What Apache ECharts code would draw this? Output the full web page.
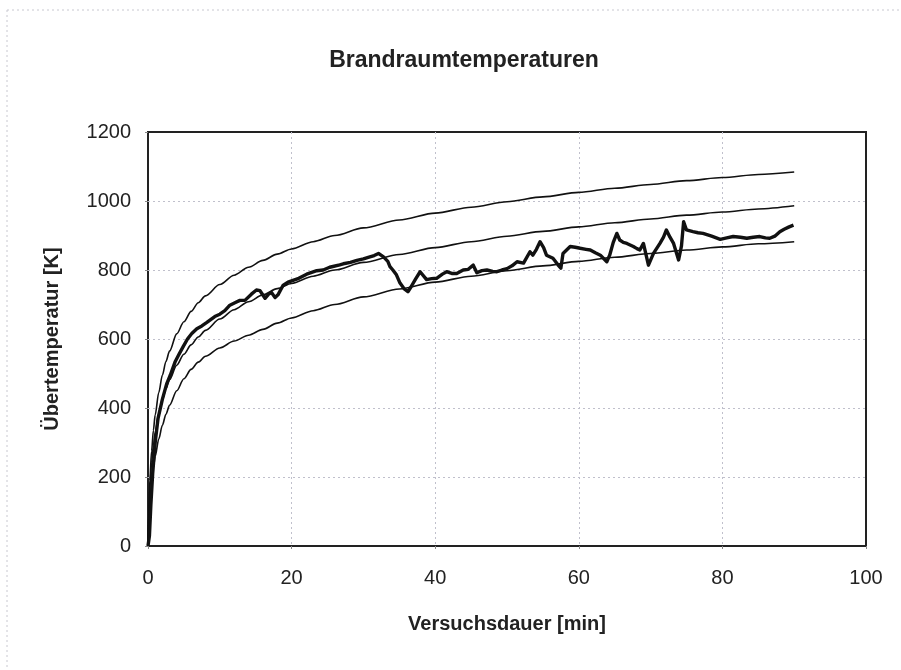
<!DOCTYPE html>
<html>
<head>
<meta charset="utf-8">
<script src="https://cdn.jsdelivr.net/npm/echarts@6/dist/echarts.min.js"></script>
<style>
  html, body { margin: 0; padding: 0; background: #fff; }
  #chart { width: 901px; height: 670px; }
</style>
</head>
<body>
<div id="chart"></div>
<script>
// Einheitstemperaturkurve mit oberer / unterer Grenze
const stdTime   = [0, 0.1, 0.25, 0.5, 0.75, 1, 1.5, 2, 2.5, 3, 4, 5, 6, 7, 8, 10, 12, 14, 16, 18, 20, 23, 26, 30, 35, 40, 45, 50, 55, 60, 65, 70, 75, 80, 85, 90]
const stdUpper  = [0, 100, 190, 275, 335, 380, 445, 495, 535, 565, 615, 650, 680, 705, 725, 758, 785, 808, 828, 846, 861, 882, 900, 922, 945, 965, 982, 998, 1012, 1025, 1037, 1048, 1059, 1068, 1077, 1084]
const stdMiddle = [0, 88, 165, 241, 292, 329, 384, 424, 456, 482, 524, 556, 583, 606, 625, 658, 685, 708, 728, 746, 761, 782, 800, 822, 845, 865, 882, 898, 912, 925, 937, 948, 959, 968, 977, 986]
const stdLower  = [0, 70, 125, 185, 228, 260, 310, 350, 382, 408, 450, 485, 512, 533, 550, 574, 594, 611, 628, 646, 661, 682, 700, 722, 745, 765, 782, 798, 812, 825, 837, 848, 858, 867, 876, 882]

// gemessene Brandraumtemperatur
const measTime = [0, 0.2, 0.4, 0.65, 1.0, 1.4, 2.0, 2.6, 3.1, 3.8, 4.3, 4.9, 5.5, 6.1, 6.8, 7.5, 8.2, 9.3, 10.0, 10.7,
  11.4, 12.1, 12.8, 13.5, 14.4, 15.1, 15.6, 16.3, 16.8, 17.2, 17.7, 18.1, 18.8, 19.5, 20.2, 21.0, 22.1, 23.5, 24.4, 25.3,
  26.7, 27.2, 28.2, 29.1, 30.0, 30.9, 31.5, 32.1, 32.8, 33.4, 33.7, 34.1, 34.6, 35.1, 35.7, 36.2, 36.6, 37.3, 37.9, 38.8,
  39.5, 40.2, 41.0, 41.6, 42.3, 43.0, 43.9, 44.6, 45.3, 45.8, 46.5, 47.2, 48.0, 48.6, 49.3, 50.0, 50.7, 51.4, 52.3, 53.2,
  53.6, 54.1, 54.6, 55.1, 55.5, 56.4, 57.1, 57.5, 57.8, 58.8, 59.5, 60.2, 61.0, 61.6, 62.3, 63.0, 63.9, 64.3, 64.8, 65.3,
  65.7, 66.2, 66.7, 67.6, 68.1, 68.5, 69.0, 69.7, 70.4, 71.3, 71.8, 72.2, 72.7, 73.2, 73.9, 74.3, 74.6, 75.0, 75.9, 76.6,
  77.3, 78.5, 79.7, 80.6, 81.5, 82.5, 83.4, 84.3, 85.2, 86.0, 86.6, 87.3, 88.0, 88.6, 89.3, 89.9]
const measTemp = [0, 30, 120, 210, 300, 370, 425, 470, 495, 535, 555, 578, 600, 616, 630, 638, 648, 665, 672, 682,
  698, 705, 712, 712, 730, 742, 740, 718, 730, 735, 720, 728, 755, 765, 770, 776, 788, 798, 800, 808,
  815, 818, 822, 828, 832, 838, 842, 848, 838, 825, 810, 800, 786, 762, 745, 737, 750, 775, 795, 772,
  775, 776, 788, 795, 790, 790, 800, 802, 814, 792, 798, 800, 796, 795, 800, 804, 812, 824, 820, 853,
  843, 860, 882, 865, 843, 834, 815, 805, 848, 868, 866, 863, 860, 858, 850, 843, 824, 843, 880, 906,
  887, 880, 877, 868, 862, 858, 877, 814, 848, 877, 895, 916, 895, 877, 829, 870, 940, 916, 911, 908,
  906, 898, 889, 893, 897, 895, 892, 895, 897, 893, 892, 898, 911, 918, 925, 930]

const xTicks = [0, 20, 40, 60, 80, 100]
const yTicks = [0, 200, 400, 600, 800, 1000, 1200]

const pairs = (xs, ys) => xs.map((x, i) => [x, ys[i]])

const myChart = echarts.init(document.getElementById('chart'))

const labelFont = { color: '#222', fontSize: 20, fontFamily: 'Liberation Sans, Arial, sans-serif' }
const nameFont = { color: '#222', fontSize: 20, fontWeight: 'bold', fontFamily: 'Liberation Sans, Arial, sans-serif' }
const gridDots = { show: true, showMinLine: false, showMaxLine: false, lineStyle: { color: '#c0c0cc', type: [2, 3], width: 1 } }

const stdLine = (name, ys) => ({
  name: name,
  type: 'line',
  data: pairs(stdTime, ys),
  smooth: 0.3,
  smoothMonotone: 'x',
  showSymbol: false,
  lineStyle: { color: '#111', width: 1.6 },
  z: 2
})

const option = {
  animation: false,
  backgroundColor: '#fff',
  title: {
    text: 'Brandraumtemperaturen',
    left: 459,
    top: 44,
    textAlign: 'center',
    textStyle: { color: '#222', fontSize: 23, fontWeight: 'bold', fontFamily: 'Liberation Sans, Arial, sans-serif' }
  },
  grid: {
    left: 148,
    top: 132,
    right: 35,
    bottom: 124,
    show: true,
    borderColor: '#222',
    borderWidth: 2
  },
  xAxis: {
    type: 'value',
    min: xTicks[0],
    max: xTicks[xTicks.length - 1],
    interval: 20,
    name: 'Versuchsdauer [min]',
    nameLocation: 'middle',
    nameGap: 68,
    nameTextStyle: nameFont,
    axisLine: { show: false },
    axisTick: { show: true, length: 3, lineStyle: { color: '#888' } },
    axisLabel: Object.assign({ margin: 22 }, labelFont),
    splitLine: gridDots
  },
  yAxis: {
    type: 'value',
    min: yTicks[0],
    max: yTicks[yTicks.length - 1],
    interval: 200,
    name: 'Übertemperatur [K]',
    nameLocation: 'middle',
    nameGap: 86,
    nameTextStyle: nameFont,
    axisLine: { show: false },
    axisTick: { show: true, length: 3, lineStyle: { color: '#888' } },
    axisLabel: Object.assign({ margin: 17, formatter: (v) => String(v) }, labelFont),
    splitLine: gridDots
  },
  graphic: [
    { type: 'line', shape: { x1: 7, y1: 10, x2: 901, y2: 10 }, style: { stroke: '#c8c8d0', lineWidth: 1, lineDash: [2, 3] } },
    { type: 'line', shape: { x1: 7, y1: 10, x2: 7, y2: 670 }, style: { stroke: '#c8c8d0', lineWidth: 1, lineDash: [2, 3] } }
  ],
  series: [
    stdLine('obere Grenze', stdUpper),
    stdLine('ETK', stdMiddle),
    stdLine('untere Grenze', stdLower),
    {
      name: 'Messung',
      type: 'line',
      data: pairs(measTime, measTemp),
      showSymbol: false,
      lineStyle: { color: '#111', width: 3.4, join: 'round' },
      z: 3
    }
  ]
}

myChart.setOption(option)
</script>
</body>
</html>
